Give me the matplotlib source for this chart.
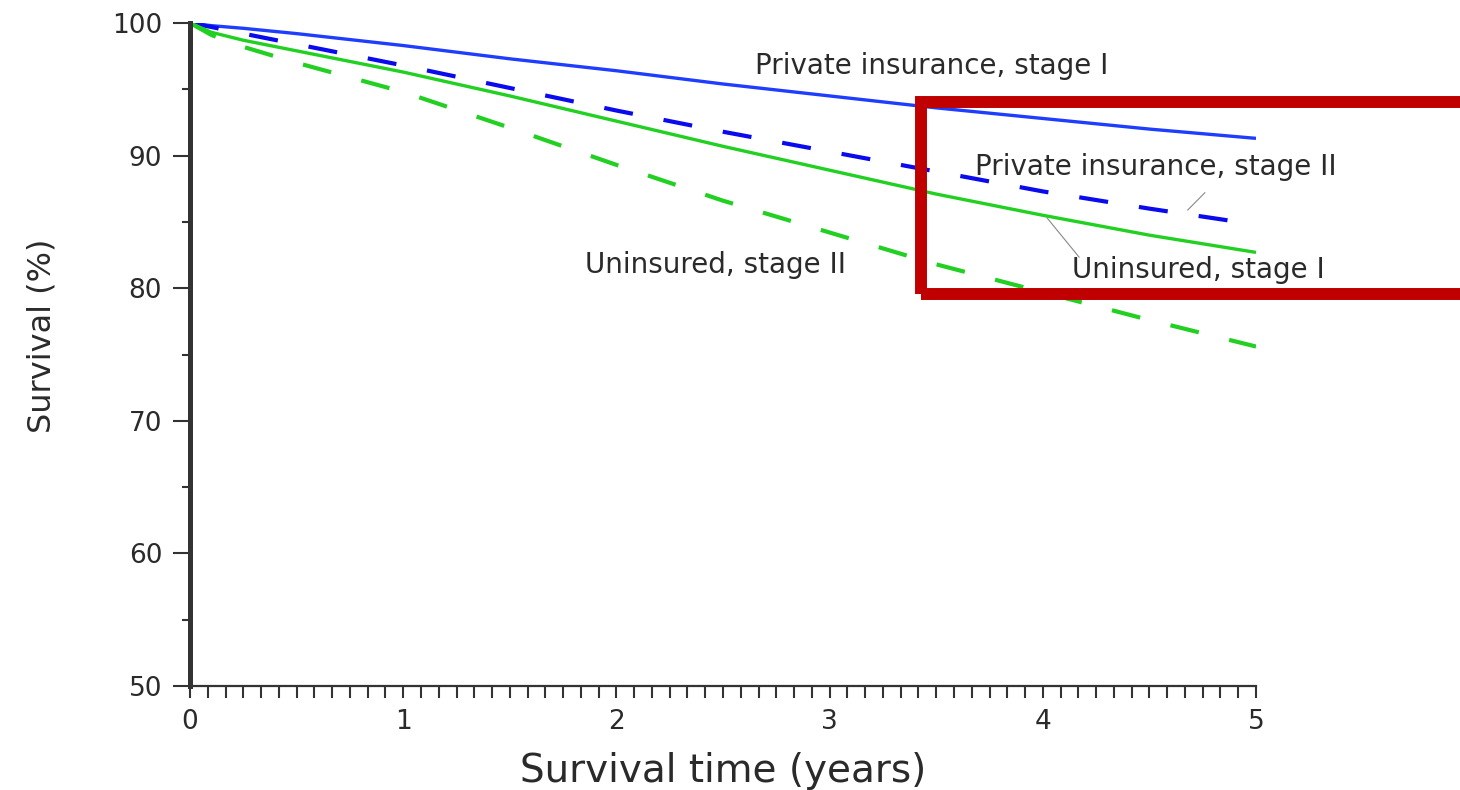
import numpy as np
import matplotlib.pyplot as plt
from matplotlib.patches import Rectangle
from matplotlib.ticker import MultipleLocator

# survival curves (years, % surviving)
years = [0, 0.1, 0.25, 0.5, 1, 1.5, 2, 2.5, 3, 3.5, 4, 4.5, 5]
private_stage1 = [100, 99.8, 99.6, 99.2, 98.3, 97.3, 96.4, 95.4, 94.5, 93.6, 92.8, 92.0, 91.3]
private_stage2 = [100, 99.7, 99.2, 98.4, 96.8, 95.1, 93.4, 91.8, 90.3, 88.8, 87.3, 86.0, 84.8]
uninsured_stage1 = [100, 99.3, 98.7, 97.9, 96.3, 94.5, 92.6, 90.7, 88.9, 87.1, 85.5, 84.0, 82.7]
uninsured_stage2 = [100, 99.1, 98.2, 97.0, 94.8, 92.1, 89.3, 86.6, 84.2, 81.8, 79.7, 77.6, 75.6]

x_ticks = [0, 1, 2, 3, 4, 5]
y_ticks = [50, 60, 70, 80, 90, 100]

plt.rcParams['font.family'] = ['DejaVu Sans']
text_color = '#2a2a2a'

fig = plt.figure(figsize=(14.6, 7.9), dpi=100)
ax = fig.add_axes([190 / 1460, 1 - 686 / 790, (1256 - 190) / 1460, (686 - 23) / 790])

blue = '#1f3dff'
green = '#22d022'
ax.plot(years, private_stage1, color=blue, lw=2.4, solid_capstyle='butt')
ax.plot(years, private_stage2, color='#0a0aee', lw=3.0, dashes=(7, 7.5))
ax.plot(years, uninsured_stage1, color=green, lw=2.4, solid_capstyle='butt')
ax.plot(years, uninsured_stage2, color=green, lw=3.0, dashes=(7, 7.5))

ax.set_xlim(0, 5)
ax.set_ylim(50, 100)
ax.set_xticks(x_ticks)
ax.set_yticks(y_ticks)
ax.xaxis.set_minor_locator(MultipleLocator(1 / 12))
ax.yaxis.set_minor_locator(MultipleLocator(5))

for side in ['top', 'right']:
    ax.spines[side].set_visible(False)
ax.spines['left'].set_linewidth(3.6)
ax.spines['left'].set_color('#333333')
ax.spines['bottom'].set_linewidth(1.6)
ax.spines['bottom'].set_color('#333333')

ax.tick_params(axis='y', which='major', length=12, width=1.5, pad=8,
               labelsize=19, colors='#333333', labelcolor=text_color)
ax.tick_params(axis='y', which='minor', length=6, width=1.5, colors='#333333')
ax.tick_params(axis='x', which='both', length=8.5, width=1.5, pad=8,
               labelsize=19, colors='#333333', labelcolor=text_color)

ax.set_xlabel('Survival time (years)', fontsize=28, color=text_color, labelpad=12)
ax.set_ylabel('Survival (%)', fontsize=23, color=text_color)
ax.yaxis.set_label_coords(-0.124, 0.528)

ann = dict(fontsize=20, color=text_color, va='baseline', ha='left')
ax.text(2.65, 96.15, 'Private insurance, stage I', **ann)
ax.text(3.68, 88.54, 'Private insurance, stage II', **ann)
ax.text(1.853, 81.15, 'Uninsured, stage II', **ann)
ax.text(4.137, 80.77, 'Uninsured, stage I', **ann)

# leader lines from labels to their curves
ax.plot([4.76, 4.68], [87.2, 85.9], color='#888888', lw=0.8)
ax.plot([4.02, 4.17], [85.3, 82.35], color='#888888', lw=0.8)

# red highlight box drawn over the chart
box = Rectangle((921 / 1460, 1 - 293.5 / 790), 0.5, (293.5 - 102) / 790,
                transform=fig.transFigure, fill=False, edgecolor='#c00000',
                linewidth=8.6, zorder=10)
fig.patches.append(box)

fig.savefig('out.png', dpi=100)
